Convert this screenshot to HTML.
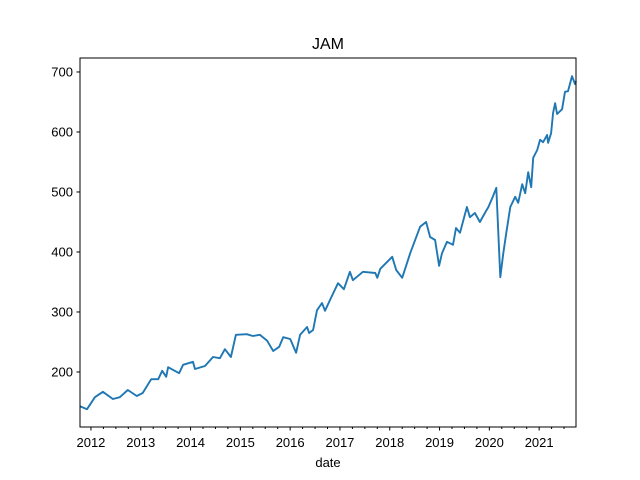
<!DOCTYPE html>
<html><head><meta charset="utf-8"><style>body{margin:0;background:#fff}svg{display:block}text{font-family:"Liberation Sans","DejaVu Sans",sans-serif;fill:#000}</style></head>
<body>
<svg id="chart" width="640" height="480" viewBox="0 0 640 480" xmlns="http://www.w3.org/2000/svg">
<rect width="640" height="480" fill="#fff"/>
<text x="328" y="49" font-size="16" text-anchor="middle">JAM</text>
<g id="xticks"></g><g id="yticks"></g>
<path id="line" fill="none" stroke="#1f77b4" stroke-width="1.9" stroke-linejoin="round"/>
<rect x="80" y="58" width="496" height="369" fill="none" stroke="#000" stroke-width="1"/>
<text x="328" y="467" font-size="13" text-anchor="middle">date</text>
</svg>
<script>
const dates=[2011.78,2011.92,2012.08,2012.24,2012.44,2012.58,2012.74,2012.92,2013.04,2013.21,2013.35,2013.43,2013.51,2013.55,2013.77,2013.85,2014.05,2014.09,2014.29,2014.45,2014.59,2014.69,2014.81,2014.91,2015.13,2015.25,2015.39,2015.54,2015.66,2015.78,2015.86,2016.00,2016.12,2016.20,2016.34,2016.38,2016.46,2016.54,2016.64,2016.70,2016.80,2016.96,2017.08,2017.20,2017.26,2017.46,2017.71,2017.75,2017.81,2018.05,2018.13,2018.25,2018.41,2018.61,2018.73,2018.81,2018.91,2018.99,2019.05,2019.15,2019.27,2019.33,2019.41,2019.55,2019.61,2019.71,2019.81,2019.91,2019.98,2020.06,2020.14,2020.22,2020.28,2020.34,2020.42,2020.52,2020.58,2020.66,2020.72,2020.78,2020.84,2020.88,2020.96,2021.02,2021.08,2021.16,2021.18,2021.24,2021.28,2021.32,2021.36,2021.46,2021.52,2021.58,2021.66,2021.72,2021.74];
const values=[143,138,158,167,155,158,170,160,165,188,188,202,192,208,198,212,217,205,210,225,223,238,225,262,263,260,262,252,235,242,258,255,232,262,275,265,270,303,315,302,320,348,338,367,353,367,365,357,372,392,370,357,398,442,450,425,420,377,398,417,412,440,432,475,458,465,450,465,475,490,507,358,398,432,475,492,482,513,498,533,508,557,570,587,583,595,582,598,632,648,630,638,667,668,693,680,685];
const yTickValues=[200,300,400,500,600,700];
const xTickYears=[2012,2013,2014,2015,2016,2017,2018,2019,2020,2021];
const L=80,R=576,T=58,B=427;
const x0=2011.78,x1=2021.74,y0=108.3,y1=723.3;
const X=v=>L+(v-x0)/(x1-x0)*(R-L);
const Y=v=>B-(v-y0)/(y1-y0)*(B-T);
const NS='http://www.w3.org/2000/svg';
document.getElementById('line').setAttribute('d',dates.map((d,i)=>(i?'L':'M')+X(d).toFixed(1)+','+Y(values[i]).toFixed(1)).join(''));
const yg=document.getElementById('yticks');
yTickValues.forEach(v=>{const y=Y(v);
const l=document.createElementNS(NS,'line');l.setAttribute('x1',L-3.5);l.setAttribute('x2',L);l.setAttribute('y1',y);l.setAttribute('y2',y);l.setAttribute('stroke','#000');


yg.appendChild(l);
const t=document.createElementNS(NS,'text');t.setAttribute('x',L-7);t.setAttribute('y',y+4.5);t.setAttribute('font-size','13');t.setAttribute('text-anchor','end');t.textContent=v;


yg.appendChild(t);});
const xg=document.getElementById('xticks');
for(let yr=2011;yr<=2022;yr++){for(let q=0;q<4;q++){const d=yr+q/4;if(d<x0||d>x1)continue;const x=X(d);
const l=document.createElementNS(NS,'line');l.setAttribute('x1',x);l.setAttribute('x2',x);l.setAttribute('y1',B);l.setAttribute('y2',B+(q?2:3.5));l.setAttribute('stroke','#000');


xg.appendChild(l);}}
xTickYears.forEach(v=>{const t=document.createElementNS(NS,'text');t.setAttribute('x',X(v));t.setAttribute('y',B+20);t.setAttribute('font-size','13');t.setAttribute('text-anchor','middle');t.textContent=v;


xg.appendChild(t);});
</script>
</body></html>
